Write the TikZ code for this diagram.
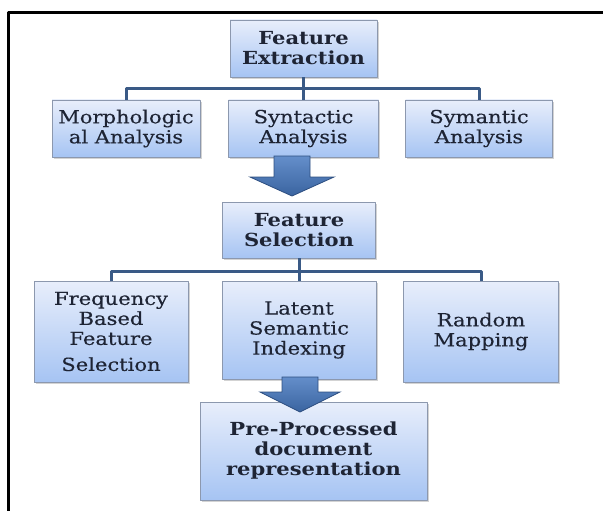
\documentclass[tikz,border=0pt]{standalone}
\usepackage{fontspec}
\setmainfont{DejaVu Serif}[FakeStretch=1.17, UprightFeatures={FakeBold=0.35}]
\usetikzlibrary{shadows}
\definecolor{boxtop}{RGB}{232,238,251}
\definecolor{boxbot}{RGB}{166,196,243}
\definecolor{boxedge}{RGB}{140,152,174}
\definecolor{boxtext}{RGB}{30,36,52}
\definecolor{linkblue}{RGB}{58,90,134}
\definecolor{arrtop}{RGB}{100,142,202}
\definecolor{arrbot}{RGB}{58,100,160}
\definecolor{arredge}{RGB}{45,78,128}
\tikzset{
  blockbox/.style={draw=boxedge, line width=0.8pt, top color=boxtop, bottom color=boxbot,
    drop shadow={shadow xshift=1.5pt, shadow yshift=-2pt, opacity=0.35},
    align=center, inner sep=2pt, text=boxtext, font=\fontsize{18}{20}\selectfont},
  headbox/.style={blockbox, font=\fontsize{18}{20}\selectfont\bfseries},
  link/.style={draw=linkblue, line width=3pt},
  bigarrow/.style={draw=arredge, line width=0.8pt, top color=arrtop, bottom color=arrbot, line join=miter}
}
\begin{document}
\begin{tikzpicture}[x=1pt, y=1pt, line join=round]
  \useasboundingbox (0,0) rectangle (603,-511);
  % frame
  \draw[line width=3pt] (8.5,-511) -- (8.5,-12.5) -- (603,-12.5);
  % extraction level
  \node[headbox, minimum width=147, minimum height=57] (fe) at (303.5,-48.5) {Feature\\ Extraction};
  \node[blockbox, minimum width=148, minimum height=57] (morph) at (126,-128.5) {Morphologic\\ al Analysis};
  \node[blockbox, minimum width=150, minimum height=57] (syn) at (303.5,-128.5) {Syntactic\\ Analysis};
  \node[blockbox, minimum width=147, minimum height=57] (sym) at (479,-128.5) {Symantic\\ Analysis};
  \coordinate (bar1) at (303.5,-89);
  \draw[link] (fe.south) -- (syn.north);
  \draw[link] (morph.north) |- (bar1) -| (sym.north);
  % selection level
  \node[headbox, minimum width=153, minimum height=56] (fs) at (299,-230) {Feature\\ Selection};
  \node[blockbox, minimum width=154, minimum height=101] (freq) at (111,-331.5) {Frequency\\ Based\\ Feature\\[6pt] Selection};
  \node[blockbox, minimum width=154, minimum height=98] (lsi) at (299,-330) {Latent\\ Semantic\\ Indexing};
  \node[blockbox, minimum width=155, minimum height=101] (rand) at (481,-331.5) {Random\\ Mapping};
  \coordinate (bar2) at (299,-271);
  \draw[link] (fs.south) -- (lsi.north);
  \draw[link] (freq.north) |- (bar2) -| (rand.north);
  % result
  \node[headbox, minimum width=227, minimum height=98] (pp) at (313.5,-451) {Pre-Processed\\ document\\ representation};
  % block arrows
  \coordinate (a1) at (292,-156);
  \coordinate (a2) at (300,-377);
  \draw[bigarrow] (a1) ++(-18,0) -- ++(36,0) -- ++(0,-21) -- ++(24,0) -- ++(-42,-19) -- ++(-42,19) -- ++(24,0) -- cycle;
  \draw[bigarrow] (a2) ++(-18,0) -- ++(36,0) -- ++(0,-15) -- ++(22,0) -- ++(-40,-20) -- ++(-40,20) -- ++(22,0) -- cycle;
\end{tikzpicture}
\end{document}
